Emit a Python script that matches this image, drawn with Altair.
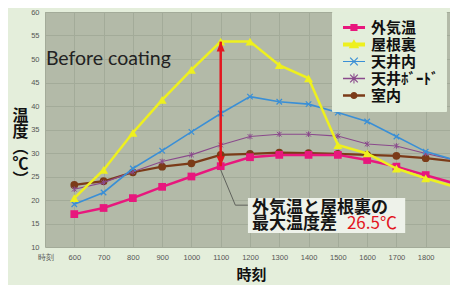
import altair as alt
import pandas as pd

# ---------------- data ----------------
times = [600, 700, 800, 900, 1000, 1100, 1200, 1300, 1400, 1500, 1600, 1700, 1800, 1900]
outdoor = [17.0, 18.3, 20.4, 22.8, 25.0, 27.2, 29.1, 29.6, 29.6, 29.6, 28.5, 27.1, 25.3, 23.5]
attic = [20.4, 26.4, 34.3, 41.3, 47.7, 53.7, 53.7, 48.7, 45.9, 31.7, 29.9, 26.7, 24.6, 22.8]
ceiling = [19.1, 21.6, 26.7, 30.5, 34.5, 38.4, 42.0, 40.9, 40.4, 38.6, 36.7, 33.5, 30.3, 28.5]
board = [22.3, 23.7, 26.0, 28.2, 29.6, 31.7, 33.5, 34.0, 34.0, 33.6, 31.9, 31.5, 29.9, 28.5]
room = [23.2, 24.0, 25.9, 27.1, 27.8, 29.6, 29.8, 30.1, 30.0, 29.8, 29.6, 29.4, 28.9, 28.2]

series = ["外気温", "屋根裏", "天井内", "天井ﾎﾞｰﾄﾞ", "室内"]
colors = ["#e8177d", "#eef01e", "#3a8fd6", "#8a4a8c", "#7b3b18"]
values = [outdoor, attic, ceiling, board, room]

x_ticks = list(range(500, 2000, 100))
y_ticks = list(range(10, 65, 5))

peak_idx = 5  # 1100
callout_x = [1100, 1150, 1193]
callout_y = [26.4, 18.9, 18.9]
box_x = [1193, 1730]
box_y = [20.4, 13.0]
text_x = [1207, 1531]
text_y = [18.2, 14.8]

rows = []
for name, vals in zip(series, values):
    for t, v in zip(times, vals):
        rows.append({"time": t, "temp": v, "series": name})
df = pd.DataFrame(rows)

# ---------------- encodings ----------------
# the original plot area runs past the right edge of the picture
xscale = alt.Scale(domain=[500, 1883], nice=False, zero=False)
yscale = alt.Scale(domain=[10, 60], nice=False, zero=False)
cscale = alt.Scale(domain=series, range=colors)

X = alt.X("time:Q", scale=xscale,
          axis=alt.Axis(values=x_ticks, title="時刻",
                        labelExpr="datum.value == 500 ? '時刻' : datum.value",
                        labelPadding=6, labelOverlap=False, labelFlush=False,
                        titleFont="Noto Sans CJK JP", titleFontSize=15, titleFontWeight="bold",
                        titleColor="#111", titleBaseline="middle", titleY=27, titleX=206))
Y = alt.Y("temp:Q", scale=yscale,
          axis=alt.Axis(values=y_ticks, title=["温", "度", "︵", "℃", "︶"],
                        labelOverlap=False, labelFlush=False,
                        titleAngle=0, titleAlign="center", titleBaseline="top",
                        titleX=-25, titleY=95, titleLineHeight=16,
                        titleFont="Noto Sans CJK JP", titleFontSize=16, titleFontWeight="bold",
                        titleColor="#111", labelPadding=6))
C = alt.Color("series:N", scale=cscale, legend=None)

styles = {
    "外気温": dict(width=2.5, shape="square", size=60, filled=True, sw=1),
    "屋根裏": dict(width=2.5, shape="triangle-up", size=80, filled=True, sw=1),
    "天井内": dict(width=1.6, shape="M-1,-1L1,1M-1,1L1,-1", size=30, filled=False, sw=1.2),
    "天井ﾎﾞｰﾄﾞ": dict(width=1.1, shape="M-1,-1L1,1M-1,1L1,-1M0,-1.2L0,1.2", size=22, filled=False, sw=1),
    "室内": dict(width=2.2, shape="circle", size=60, filled=True, sw=1),
}
draw_order = ["室内", "天井ﾎﾞｰﾄﾞ", "天井内", "外気温", "屋根裏"]

layers = []
for name in draw_order:
    s = styles[name]
    base = alt.Chart(df).transform_filter(alt.datum.series == name)
    layers.append(base.mark_line(strokeWidth=s["width"]).encode(x=X, y=Y, color=C))
    layers.append(base.mark_point(shape=s["shape"], size=s["size"], filled=s["filled"],
                                  opacity=1, strokeWidth=s["sw"]).encode(x=X, y=Y, color=C))

# legend-only layer (invisible points; symbols = line + marker)
xq1 = "M1.26,0.4L1.16,0.5L0.26,-0.4L0.36,-0.5Z M1.16,-0.5L1.26,-0.4L0.36,0.5L0.26,0.4Z"
legend_paths = [
    "M-0.53,-0.18H2.06V0.18H-0.53Z M0.34,-0.42H1.18V0.42H0.34Z",
    "M-0.53,-0.24H2.06V0.24H-0.53Z M0.76,-0.62L1.38,0.45L0.14,0.45Z",
    "M-0.53,-0.06H2.06V0.06H-0.53Z " + xq1,
    "M-0.53,-0.09H2.06V0.09H-0.53Z " + xq1 + " M0.7,-0.6H0.82V0.6H0.7Z",
    "M-0.53,-0.15H2.06V0.15H-0.53Z M0.34,0A0.42,0.42 0 1,1 1.18,0A0.42,0.42 0 1,1 0.34,0Z",
]
leg = alt.Legend(title=None, orient="none", legendX=287, legendY=0, padding=7,
                 fillColor="#e3eedb", strokeColor="#e3eedb",
                 labelFont="Noto Sans CJK JP", labelFontSize=15, labelFontWeight="bold",
                 labelColor="#111", labelOffset=15, rowPadding=0, symbolSize=289,
                 symbolStrokeWidth=0, symbolOpacity=1)
legend_layer = alt.Chart(df).mark_point(filled=True, size=289, opacity=0).encode(
    x=X, y=Y,
    color=alt.Color("series:N", scale=cscale, legend=leg),
    shape=alt.Shape("series:N", scale=alt.Scale(domain=series, range=legend_paths), legend=leg),
)

# red double arrow (same field names so the axes merge cleanly)
red = "#e3161f"
arrow_df = pd.DataFrame({"time": [times[peak_idx]], "temp": [attic[peak_idx]],
                         "temp2": [outdoor[peak_idx]]})
low_df = pd.DataFrame({"time": [times[peak_idx]], "temp": [outdoor[peak_idx]]})
arrow_rule = alt.Chart(arrow_df).mark_rule(color=red, strokeWidth=2.5).encode(
    x=X, y=Y, y2="temp2:Q")
head_up = alt.Chart(arrow_df).mark_point(shape="M0,0L-0.8,2L0.8,2Z", size=100, filled=True,
                                         color=red, opacity=1).encode(x=X, y=Y)
head_down = alt.Chart(low_df).mark_point(shape="M0,0L-0.8,-2L0.8,-2Z", size=100, filled=True,
                                         color=red, opacity=1).encode(x=X, y=Y)

# callout
call_df = pd.DataFrame({"time": callout_x, "temp": callout_y, "o": [0, 1, 2]})
call_line = alt.Chart(call_df).mark_line(color="#5f625c", strokeWidth=1).encode(
    x=X, y=Y, order="o:Q")
box_df = pd.DataFrame({"time": [box_x[0]], "time2": [box_x[1]],
                       "temp": [box_y[0]], "temp2": [box_y[1]]})
box = alt.Chart(box_df).mark_rect(color="#eef2ea").encode(
    x=X, x2="time2:Q", y=Y, y2="temp2:Q")
txt_df = pd.DataFrame({"time": [text_x[0], text_x[0]], "temp": text_y,
                       "t": ["外気温と屋根裏の", "最大温度差"]})
txt = alt.Chart(txt_df).mark_text(align="left", baseline="middle", font="Noto Sans CJK JP",
                                  fontSize=17, fontWeight="bold", color="#151515").encode(
    x=X, y=Y, text="t:N")
red_df = pd.DataFrame({"time": [text_x[1]], "temp": [text_y[1]], "t": ["26.5℃"]})
red_txt = alt.Chart(red_df).mark_text(align="left", baseline="middle", font="Noto Sans CJK JP",
                                      fontSize=17, color=red).encode(x=X, y=Y, text="t:N")

note_df = pd.DataFrame({"time": [503], "temp": [50], "t": ["Before coating"]})
note = alt.Chart(note_df).mark_text(align="left", baseline="middle", font="Lato",
                                    fontSize=19.5, color="#222").encode(x=X, y=Y, text="t:N")

chart = alt.layer(
    legend_layer, *layers, call_line, arrow_rule, head_up, head_down, box, txt, red_txt, note
).properties(
    width=405, height=235,
    autosize=alt.AutoSizeParams(type="none"),
    padding={"left": 37, "top": 4, "right": 0, "bottom": 38},
).configure(
    background="#e4eedb",
).configure_view(
    fill="#b3baa8", stroke=None,
).configure_axis(
    domain=False, ticks=False, gridColor="#a3ab99", gridWidth=1, labelOverlap=False,
    labelColor="#555", labelFontSize=7.5, labelFont="Liberation Sans",
)

chart.save("out.html", embed_options={"renderer": "svg", "actions": False})
